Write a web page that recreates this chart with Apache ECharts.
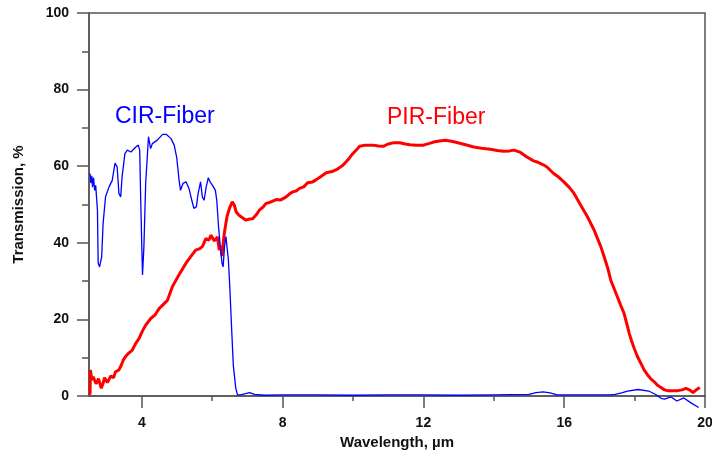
<!DOCTYPE html>
<html lang="en">
  <head>
    <meta charset="UTF-8" />
    <title>CIR / PIR fiber transmission</title>
    <script src="https://cdn.jsdelivr.net/npm/echarts/dist/echarts.min.js"></script>
    <style>
      html,
      body {
        margin: 0;
        padding: 0;
        background: #fff;
      }
      #main {
        width: 712px;
        height: 454px;
      }
    </style>
  </head>
  <body>
    <div id="main"></div>
    <script>
      // PIR-Fiber (red), wavelength in µm / transmission in %
      var pirWave = [
        2.53, 2.54, 2.58, 2.62, 2.66, 2.7, 2.73, 2.77, 2.8, 2.85, 2.9, 2.94, 2.97, 3.02, 3.07, 3.12,
        3.16, 3.2, 3.25, 3.3, 3.35, 3.42, 3.48, 3.54, 3.63, 3.73, 3.82, 3.92, 4.02, 4.11, 4.26, 4.38,
        4.49, 4.6, 4.73, 4.87, 5.05, 5.25, 5.4, 5.53, 5.63, 5.72, 5.82, 5.91, 5.96, 6.01, 6.06, 6.11,
        6.15, 6.2, 6.25, 6.28, 6.3, 6.35, 6.42, 6.49, 6.57, 6.63, 6.68, 6.75, 6.82, 6.96, 7.05, 7.15,
        7.25, 7.34, 7.45, 7.53, 7.65, 7.82, 7.95, 8.1, 8.2, 8.29, 8.4, 8.48, 8.6, 8.71, 8.85, 8.96,
        9.1, 9.24, 9.4, 9.53, 9.63, 9.72, 9.85, 9.96, 10.08, 10.19, 10.35, 10.57, 10.72, 10.86, 11.0,
        11.14, 11.33, 11.48, 11.62, 11.8, 12.0, 12.15, 12.29, 12.45, 12.62, 12.8, 12.95, 13.2, 13.43,
        13.65, 13.9, 14.1, 14.28, 14.45, 14.57, 14.76, 14.94, 15.13, 15.23, 15.42, 15.51, 15.7,
        15.85, 15.99, 16.15, 16.28, 16.47, 16.66, 16.85, 17.04, 17.13, 17.24, 17.32, 17.42, 17.51,
        17.6, 17.7, 17.78, 17.85, 17.92, 17.99, 18.08, 18.18, 18.27, 18.37, 18.46, 18.56, 18.65,
        18.75, 18.85, 18.94, 19.1, 19.23, 19.35, 19.46, 19.56, 19.66, 19.75, 19.85
      ];
      var pirTrans = [
        0.3, 6.8, 4.2, 5, 4.6, 3.2, 2.9, 4.5, 4.2, 2.0, 3.3, 4.8, 4.6, 3.5, 3.7, 5.2,
        5.5, 4.8, 6.3, 6.0, 6.8, 8.1, 9.5, 10.3, 11.2, 12, 13.6, 15, 17, 18.5, 20.3, 21.2,
        22.8, 23.8, 25, 28.6, 31.5, 34.6, 36.5, 38.1, 38.4, 39, 41.1, 40.7, 42, 41.7, 40.5, 40.3,
        41.5, 38.1, 39, 36.5, 39, 42.9, 46.8, 49, 50.7, 49.8, 48.1, 47.3, 46.8, 45.9, 46.2, 46.3,
        47.3, 48.5, 49.4, 50.3, 50.6, 51.3, 51.2, 52, 52.8, 53.3, 53.6, 54.2, 54.6, 55.7, 55.9, 56.5,
        57.4, 58.3, 58.6, 59.1, 59.7, 60.3, 61.6, 62.9, 64.1, 65.2, 65.5, 65.5, 65.3, 65.2, 65.8,
        66.1, 66.1, 65.8, 65.6, 65.5, 65.5, 65.9, 66.3, 66.6, 66.8, 66.5, 66.2, 65.6, 65,
        64.7, 64.4, 64.1, 63.9, 64, 64.2, 63.6, 62.4, 61.4, 61.1, 60.3, 59.8, 58.1,
        57.1, 55.9, 54.4, 52.9, 49.8, 46.8, 43.3, 39, 36.5, 33.3, 30.3, 28, 25.9,
        23.8, 21.6, 18.8, 16.3, 14.2, 12.4, 10.3, 8.5, 6.8, 5.5, 4.5, 3.7, 2.8,
        2.2, 1.6, 1.4, 1.4, 1.4, 1.6, 2.0, 1.6, 0.9, 1.6, 2.2
      ];

      // CIR-Fiber (blue)
      var cirWave = [
        2.53, 2.55, 2.58, 2.6, 2.63, 2.66, 2.69, 2.74, 2.76, 2.8, 2.86, 2.9, 2.97, 3.07, 3.16, 3.24,
        3.3, 3.35, 3.4, 3.44, 3.52, 3.59, 3.69, 3.83, 3.9, 3.94, 3.97, 4.0, 4.02, 4.06, 4.11, 4.19,
        4.23, 4.25, 4.3, 4.35, 4.44, 4.59, 4.7, 4.83, 4.92, 4.99, 5.06, 5.1, 5.17, 5.26, 5.34, 5.42,
        5.48, 5.55, 5.6, 5.67, 5.72, 5.77, 5.83, 5.89, 5.94, 6.01, 6.09, 6.13, 6.18, 6.23, 6.28,
        6.31, 6.35, 6.39, 6.42, 6.46, 6.5, 6.55, 6.6, 6.67, 6.72, 6.8, 6.95, 7.06, 7.2, 7.5, 8, 9,
        10, 11, 12, 13, 14, 15, 15.2, 15.4, 15.6, 15.8, 16.5, 17.3, 17.45, 17.63, 17.8, 18.1, 18.4,
        18.6, 18.75, 18.85, 19.03, 19.2, 19.4, 19.6, 19.82
      ];
      var cirTrans = [
        58.1, 55.6, 57.5, 54.5, 57, 53.7, 55, 48.5, 34.7, 33.7, 36.3, 45, 52, 54.6, 56.3, 60.8,
        59.8, 52.9, 52, 57.2, 63.3, 64.2, 63.7, 65, 65.5, 64.2, 51, 39, 31.6, 39, 55.5, 67.7,
        68.1, 64.6, 65.9, 66.3, 66.8, 68.3, 68.3, 67.2, 65.5, 62.4, 56.3, 53.7, 55.5, 55.9, 54.2, 51.1,
        49, 49.4, 52.9, 55.9, 52, 51.1, 54.6, 57, 55.9, 55, 53.7, 51.1, 44.2, 39, 34.6,
        33.7, 39, 41.6, 41.6, 35.5, 28.5, 18, 8, 2, 0.3, 0.3, 0.6, 0.9, 0.4, 0.2, 0.3, 0.3,
        0.2, 0.3, 0.3, 0.2, 0.3, 0.4, 0.9, 1.1, 0.8, 0.3, 0.3, 0.3, 0.4, 0.8, 1.3, 1.7, 1.3,
        0.4, -0.6, -0.8, -0.2, -1.3, -0.5, -1.8, -3.0
      ];

      var xLabelTicks = [4, 8, 12, 16, 20];
      var xMinorTicks = [6, 10, 14, 18];

      function pairs(xs, ys) {
        return xs.map(function (x, i) {
          return [x, ys[i]];
        });
      }

      var axisColor = "#555";
      var labelFont = {
        color: "#111",
        fontWeight: "bold",
        fontSize: 14,
        fontFamily: "Liberation Sans, Arial, sans-serif",
      };

      var myChart = echarts.init(document.getElementById("main"));

      var option = {
        animation: false,
        grid: {
          left: 89,
          right: 7,
          top: 13,
          bottom: 58,
          outerBoundsMode: "none", // let the "20" label run off the edge like the original
          show: true,
          borderColor: axisColor,
          borderWidth: 1.5,
        },
        xAxis: [
          {
            type: "value",
            min: 2.5,
            max: 20,
            name: "Wavelength, µm",
            nameLocation: "middle",
            nameGap: 37,
            nameTextStyle: {
              color: "#111",
              fontWeight: "bold",
              fontSize: 15,
              fontFamily: "Liberation Sans, Arial, sans-serif",
            },
            axisLine: { lineStyle: { color: axisColor, width: 1.5 } },
            axisTick: {
              customValues: xLabelTicks,
              length: 12,
              lineStyle: { color: axisColor, width: 1.5 },
            },
            axisLabel: Object.assign({ customValues: xLabelTicks, margin: 20 }, labelFont),
            splitLine: { show: false },
          },
          {
            // minor ticks only
            type: "value",
            position: "bottom",
            min: 2.5,
            max: 20,
            axisLine: { show: false },
            axisTick: {
              customValues: xMinorTicks,
              length: 5,
              lineStyle: { color: axisColor, width: 1.5 },
            },
            axisLabel: { show: false },
            splitLine: { show: false },
          },
        ],
        yAxis: {
          type: "value",
          min: 0,
          max: 100,
          interval: 20,
          name: "Transmission, %",
          nameLocation: "middle",
          nameGap: 63,
          nameTextStyle: {
            color: "#111",
            fontWeight: "bold",
            fontSize: 15,
            fontFamily: "Liberation Sans, Arial, sans-serif",
          },
          axisLine: { show: true, lineStyle: { color: axisColor, width: 1.5 } },
          axisTick: { show: true, length: 12, lineStyle: { color: axisColor, width: 1.5 } },
          minorTick: {
            show: true,
            splitNumber: 2,
            length: 7,
            lineStyle: { color: axisColor, width: 1.5 },
          },
          axisLabel: Object.assign({ margin: 20 }, labelFont),
          splitLine: { show: false },
        },
        graphic: [
          {
            type: "text",
            left: 115,
            top: 105,
            style: {
              text: "CIR-Fiber",
              fill: "#0000ff",
              fontSize: 23,
              fontFamily: "Liberation Sans, Arial, sans-serif",
            },
          },
          {
            type: "text",
            left: 387,
            top: 106,
            style: {
              text: "PIR-Fiber",
              fill: "#ff0000",
              fontSize: 23,
              fontFamily: "Liberation Sans, Arial, sans-serif",
            },
          },
        ],
        series: [
          {
            name: "PIR-Fiber",
            type: "line",
            data: pairs(pirWave, pirTrans),
            showSymbol: false,
            clip: false,
            lineStyle: { color: "#ff0000", width: 3 },
          },
          {
            name: "CIR-Fiber",
            type: "line",
            data: pairs(cirWave, cirTrans),
            showSymbol: false,
            clip: false,
            lineStyle: { color: "#0000ff", width: 1.3 },
          },
        ],
      };

      myChart.setOption(option);
    </script>
  </body>
</html>
